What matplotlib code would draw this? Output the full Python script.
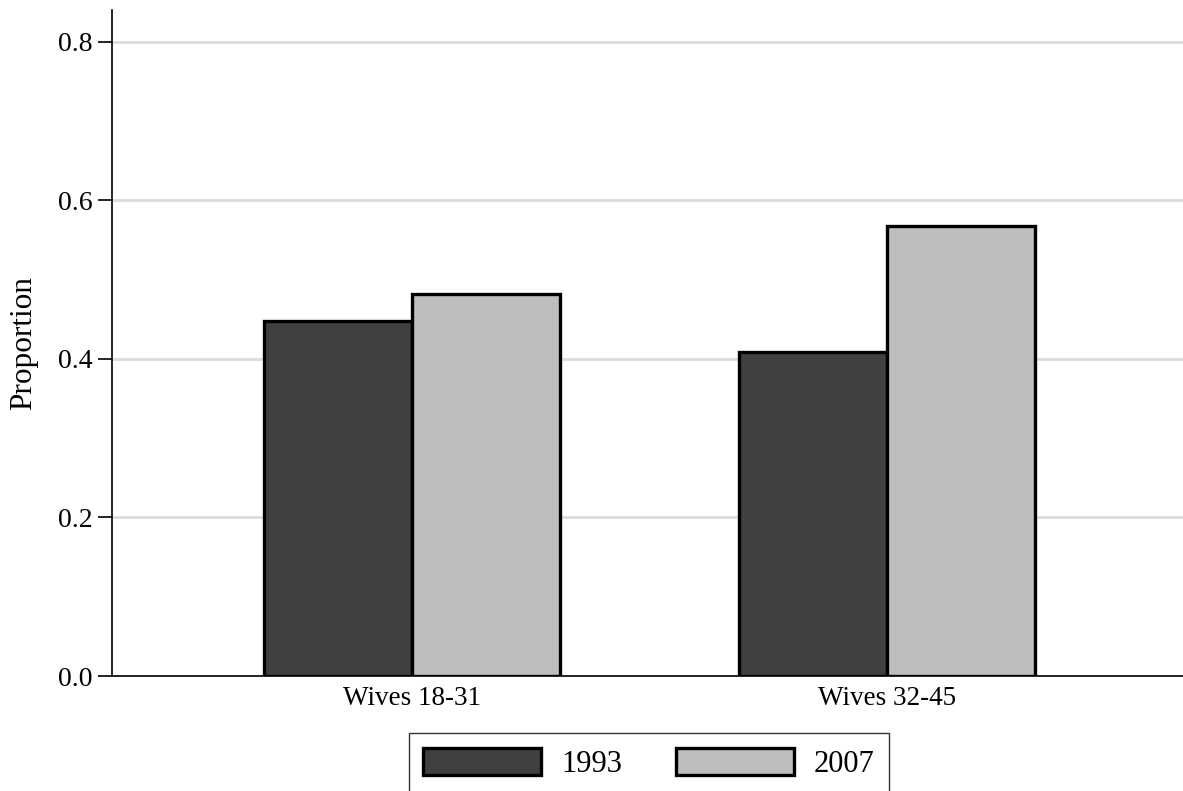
import matplotlib.pyplot as plt
import numpy as np

groups = ["Wives 18-31", "Wives 32-45"]
years = ["1993", "2007"]
vals_1993 = [0.448, 0.409]
vals_2007 = [0.482, 0.567]
colors = ["#404040", "#bebebe"]

plt.rcParams["font.family"] = ["Liberation Serif", "DejaVu Serif"]

fig = plt.figure(figsize=(11.83, 7.91), dpi=100)
ax = fig.add_axes([112 / 1183, 1 - 676 / 791, (1183 - 112) / 1183, (676 - 10) / 791])

x = np.arange(len(groups))
w = 0.312
b1 = ax.bar(x - w / 2, vals_1993, w, color=colors[0], edgecolor="black", linewidth=2.4, label=years[0], zorder=3)
b2 = ax.bar(x + w / 2, vals_2007, w, color=colors[1], edgecolor="black", linewidth=2.4, label=years[1], zorder=3)

ax.set_xlim(-0.632, 1.623)
ax.set_ylim(0, 0.84)
ax.set_yticks([0, 0.2, 0.4, 0.6, 0.8])
ax.set_yticklabels(["0.0", "0.2", "0.4", "0.6", "0.8"], fontsize=20)
ax.set_xticks(x)
ax.set_xticklabels(groups, fontsize=19.5)
ax.tick_params(axis="x", length=0, pad=7)
ax.tick_params(axis="y", length=10, width=1.2, pad=4)
ax.grid(axis="y", color="#dcdcdc", linewidth=2, zorder=0)
ax.set_axisbelow(True)
for s in ["top", "right"]:
    ax.spines[s].set_visible(False)
ax.spines["left"].set_linewidth(1.2)
ax.spines["bottom"].set_linewidth(1.2)
ax.set_ylabel("Proportion", fontsize=22.5, labelpad=14)

leg = fig.legend(handles=[b1, b2], labels=years, loc="upper center",
                 bbox_to_anchor=(649 / 1183, 1 - 733 / 791), ncol=2, fontsize=22,
                 frameon=True, fancybox=False, edgecolor="black", handlelength=3.86,
                 handleheight=1.0, columnspacing=1.76, borderpad=0.48, handletextpad=0.65,
                 borderaxespad=0)
leg.get_frame().set_linewidth(1.0)

plt.savefig("out.png", dpi=100)
